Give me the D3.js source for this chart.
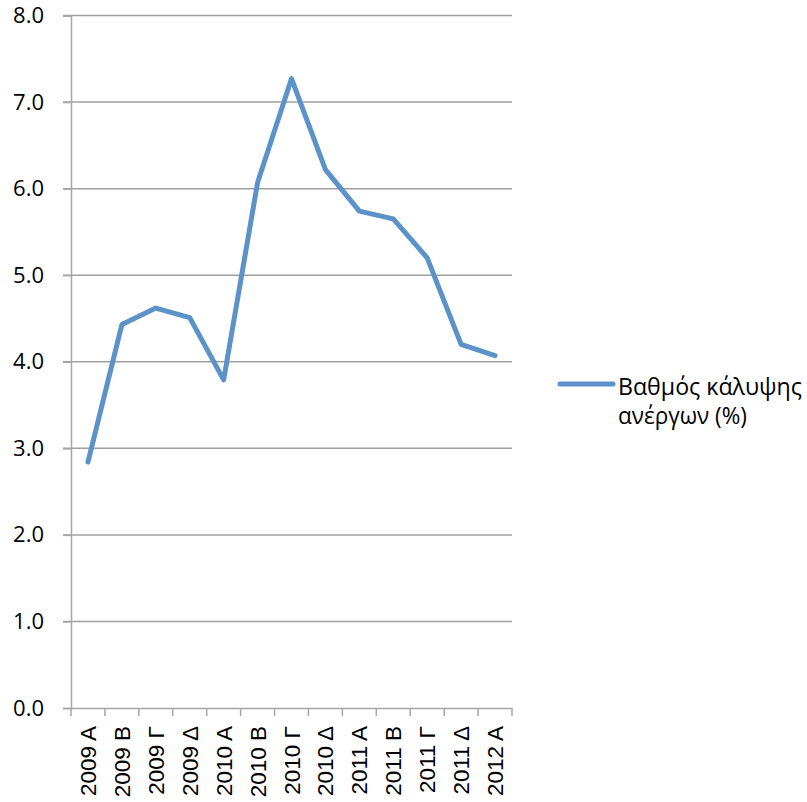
<!DOCTYPE html>
<html><head><meta charset="utf-8">
<script src="https://cdn.jsdelivr.net/npm/d3@7"></script>
<style>body{margin:0;background:#fff}svg{display:block}</style>
</head><body>
<script>
const categories = ["2009 Α","2009 Β","2009 Γ","2009 Δ","2010 Α","2010 Β","2010 Γ","2010 Δ","2011 Α","2011 Β","2011 Γ","2011 Δ","2012 Α"];
const values = [2.84,4.43,4.62,4.51,3.79,6.07,7.27,6.22,5.74,5.65,5.20,4.20,4.07];
const yTicks = [0,1,2,3,4,5,6,7,8];
const seriesName = ["Βαθμός κάλυψης","ανέργων (%)"];

const W=807,H=802;
const m={left:71,right:295,top:15.5,bottom:94};
const svg=d3.select("body").append("svg").attr("width",W).attr("height",H);
const x=d3.scaleBand().domain(categories).range([m.left,W-m.right]).padding(0);
const y=d3.scaleLinear().domain([0,8]).range([H-m.bottom,m.top]);

// gridlines
svg.append("g").selectAll("line").data(yTicks.filter(d=>d>0)).join("line")
 .attr("x1",m.left-8).attr("x2",W-m.right).attr("y1",d=>y(d)).attr("y2",d=>y(d))
 .attr("stroke","#a0a0a0").attr("stroke-width",1.5);

// y axis
const ya=svg.append("g").attr("transform",`translate(${m.left},0)`)
 .call(d3.axisLeft(y).tickValues(yTicks).tickFormat(d3.format(".1f")).tickSize(8).tickPadding(19));
ya.select(".domain").attr("stroke","#a6a6a6").attr("stroke-width",1.5);
ya.selectAll(".tick line").attr("stroke","#a6a6a6").attr("stroke-width",1.5);
ya.selectAll("text").attr("font-family","'Open Sans'").attr("font-size",22).attr("fill","#000");

// x axis
const xa=svg.append("g").attr("transform",`translate(0,${y(0)})`)
 .call(d3.axisBottom(x).tickSize(0).tickFormat(""));
xa.select(".domain").attr("stroke","#a6a6a6").attr("stroke-width",1.5);
const edges=categories.map(c=>x(c)).concat([x(categories[categories.length-1])+x.bandwidth()]);
xa.selectAll(".edge").data(edges).join("line").attr("class","edge")
 .attr("x1",d=>d).attr("x2",d=>d).attr("y1",0).attr("y2",8)
 .attr("stroke","#a6a6a6").attr("stroke-width",1.5);
xa.selectAll(".lbl").data(categories).join("text").attr("class","lbl")
 .attr("transform",d=>`translate(${x(d)+x.bandwidth()/2+8},18) rotate(-90)`)
 .attr("text-anchor","end").attr("font-family","'Liberation Sans'").attr("font-size",22.5).attr("fill","#000")
 .text(d=>d);

// line
const line=d3.line().x((d,i)=>x(categories[i])+x.bandwidth()/2).y(d=>y(d));
svg.append("path").datum(values).attr("d",line).attr("fill","none")
 .attr("stroke","#5b92c8").attr("stroke-width",5).attr("stroke-linejoin","round").attr("stroke-linecap","round");

// legend
const lg=svg.append("g");
lg.append("line").attr("x1",560).attr("x2",613).attr("y1",384).attr("y2",384)
 .attr("stroke","#5b92c8").attr("stroke-width",5).attr("stroke-linecap","round");
const lens=[184,129];
lg.selectAll("text").data(seriesName).join("text")
 .attr("x",618).attr("y",(d,i)=>395+i*29)
 .attr("textLength",(d,i)=>lens[i]).attr("lengthAdjust","spacingAndGlyphs")
 .attr("font-family","'Open Sans'").attr("font-size",23).attr("fill","#000").text(d=>d);
</script>
</body></html>
